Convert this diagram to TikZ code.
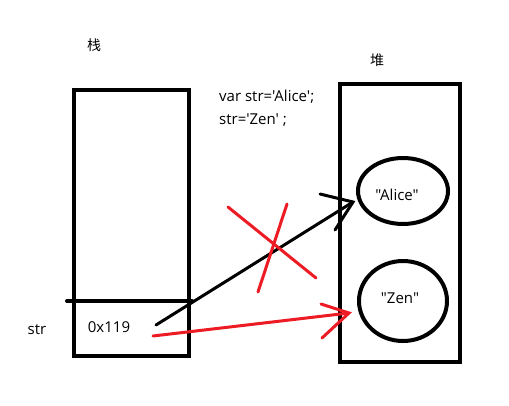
\documentclass[tikz,border=0pt]{standalone}
\usepackage{fontspec}
\setmainfont{Open Sans}[Ligatures=TeXOff]
\newfontfamily\cjk{Noto Sans CJK SC}
\usetikzlibrary{shapes.geometric}
\definecolor{paintred}{HTML}{ED1C24}
\tikzset{
  box/.style={draw=black, line width=4pt, minimum width=#1, inner sep=0pt},
  oval/.style={draw=black, line width=4pt, ellipse, inner sep=0pt},
  lbl/.style={font=\fontsize{15}{17}\selectfont, inner sep=0pt, text=black},
  cjklbl/.style={font=\cjk\fontsize{14}{16}\selectfont, inner sep=0pt},
  blk/.style={draw=black, line width=3pt, line cap=round},
  redl/.style={draw=paintred, line width=3pt, line cap=round},
}
\begin{document}
\begin{tikzpicture}[x=1pt,y=-1pt]
\useasboundingbox (0,0) rectangle (509,405);
% stack
\node[box=115pt, minimum height=266pt] (stack) at (131,223) {};
\coordinate (divL) at (67,301);
\coordinate (divR) at (192,301);
\draw[line width=4pt, line cap=round] (divL) -- (divR);
% heap
\node[box=120pt, minimum height=278pt] (heap) at (400,223) {};
\node[oval, minimum width=90pt, minimum height=66pt] (alice) at (403,191) {};
\node[oval, minimum width=88pt, minimum height=80pt] (zen) at (403,301) {};
% labels
\node[cjklbl] (zhan) at (94,45) {栈};
\node[cjklbl] (dui) at (377,60) {堆};
\node[lbl, anchor=west] (code1) at (219,97) {var str='Alice';};
\node[lbl, anchor=west] (code2) at (219,120) {str='Zen' ;};
\node[lbl] (strlbl) at (37,330) {str};
\node[lbl] (addr) at (109,327) {0x119};
\node[lbl] (alicet) at (397,195) {"Alice"};
\node[lbl] (zent) at (400,298) {"Zen"};
% black arrow
\coordinate (bs) at (156,325);
\coordinate (be) at (353,202);
\coordinate (bh1) at (320,194);
\coordinate (bh2) at (335,230);
\draw[blk] (bs) -- (be);
\draw[blk] (bh1) -- (be) -- (bh2);
% red arrow
\coordinate (rs) at (153,336);
\coordinate (re) at (349,313);
\coordinate (rh1) at (321,304);
\coordinate (rh2) at (322,338);
\draw[redl] (rs) -- (re);
\draw[redl] (rh1) -- (re) -- (rh2);
% red cross
\coordinate (x1a) at (228,207);
\coordinate (x1b) at (316,278);
\coordinate (x2a) at (287,204);
\coordinate (x2b) at (258,292);
\draw[redl] (x1a) -- (x1b);
\draw[redl] (x2a) -- (x2b);
\end{tikzpicture}
\end{document}
